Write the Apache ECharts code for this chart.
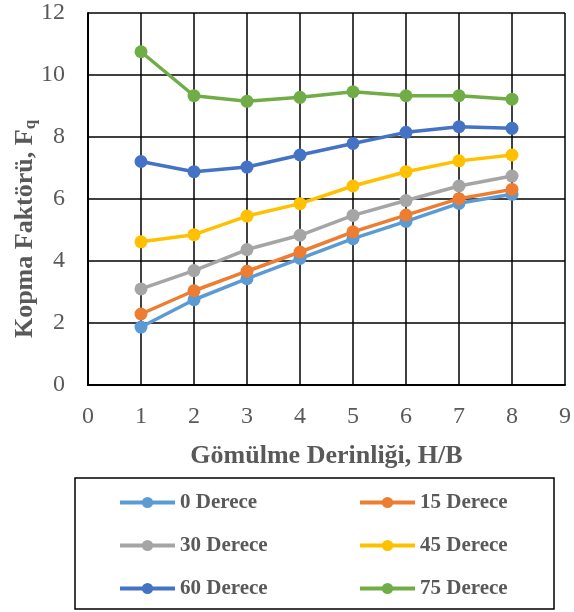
<!DOCTYPE html>
<html>
<head>
<meta charset="utf-8">
<script src="https://cdn.jsdelivr.net/npm/echarts@6/dist/echarts.min.js"></script>
<style>
  html, body { margin: 0; padding: 0; background: #fff; }
  #chart { width: 574px; height: 612px; }
</style>
</head>
<body>
<div id="chart"></div>
<script>
// H/B values
const depths = [1, 2, 3, 4, 5, 6, 7, 8];
const seriesNames = ["0 Derece", "15 Derece", "30 Derece", "45 Derece", "60 Derece", "75 Derece"];
const colors = ["#5B9BD5", "#ED7D31", "#A5A5A5", "#FFC000", "#4472C4", "#70AD47"];

// Fq values
const deg0 = [1.87, 2.75, 3.43, 4.08, 4.72, 5.28, 5.86, 6.15];
const deg15 = [2.29, 3.04, 3.67, 4.29, 4.94, 5.48, 6.01, 6.31];
const deg30 = [3.10, 3.69, 4.37, 4.83, 5.47, 5.95, 6.42, 6.74];
const deg45 = [4.62, 4.85, 5.45, 5.85, 6.42, 6.88, 7.23, 7.42];
const deg60 = [7.21, 6.88, 7.03, 7.42, 7.79, 8.15, 8.33, 8.28];
const deg75 = [10.75, 9.33, 9.15, 9.28, 9.46, 9.33, 9.33, 9.22];
const allValues = [deg0, deg15, deg30, deg45, deg60, deg75];

const chart = echarts.init(document.getElementById("chart"));
const font = "'Liberation Serif', 'Times New Roman', serif";
const gray = "#595959";

const series = allValues.map((vals, i) => ({
  name: seriesNames[i],
  type: "line",
  data: depths.map((d, j) => [d, vals[j]]),
  symbol: "circle",
  symbolSize: 13,
  lineStyle: { width: 3.5, color: colors[i] },
  itemStyle: { color: colors[i] },
  z: 3 + i,
}));

const legendBase = {
  orient: "vertical",
  padding: 0,
  itemWidth: 55,
  itemHeight: 14,
  itemGap: 22,
  lineStyle: { width: 4 },
  textStyle: { fontFamily: font, fontSize: 21, fontWeight: "bold", color: gray },
};

chart.setOption({
  backgroundColor: "#fff",
  animation: false,
  grid: { left: 88, right: 8, top: 13, bottom: 227 },
  xAxis: {
    type: "value",
    min: 0,
    max: 9,
    interval: 1,
    axisLine: { show: true, lineStyle: { color: "#000", width: 2 } },
    axisTick: { show: false },
    splitLine: { show: true, lineStyle: { color: "#000", width: 1.5 } },
    axisLabel: { fontFamily: font, fontSize: 24, color: gray, margin: 20 },
    name: "Gömülme Derinliği, H/B",
    nameLocation: "middle",
    nameGap: 58,
    nameTextStyle: { fontFamily: font, fontSize: 26, fontWeight: "bold", color: gray },
  },
  yAxis: {
    type: "value",
    min: 0,
    max: 12,
    interval: 2,
    axisLine: { show: true, lineStyle: { color: "#000", width: 2 } },
    axisTick: { show: false },
    splitLine: { show: true, lineStyle: { color: "#000", width: 1.5 } },
    axisLabel: { fontFamily: font, fontSize: 24, color: gray, margin: 23 },
  },
  legend: [
    Object.assign({}, legendBase, { left: 118, top: 492, data: ["0 Derece", "30 Derece", "60 Derece"] }),
    Object.assign({}, legendBase, { left: 358, top: 492, data: ["15 Derece", "45 Derece", "75 Derece"] }),
  ],
  graphic: [
    {
      type: "rect",
      shape: { x: 75, y: 478, width: 479, height: 131 },
      style: { fill: "none", stroke: "#000", lineWidth: 1.5 },
      silent: true,
    },
    {
      type: "text",
      x: 25,
      y: 229,
      rotation: Math.PI / 2,
      style: {
        text: "{m|Kopma Faktörü, F}{s|q}",
        align: "center",
        verticalAlign: "middle",
        rich: {
          m: { fontFamily: font, fontSize: 26, fontWeight: "bold", fill: gray },
          s: { fontFamily: font, fontSize: 17, fontWeight: "bold", fill: gray, padding: [12, 0, 0, 0] },
        },
      },
    },
  ],
  series: series,
});
</script>
</body>
</html>
